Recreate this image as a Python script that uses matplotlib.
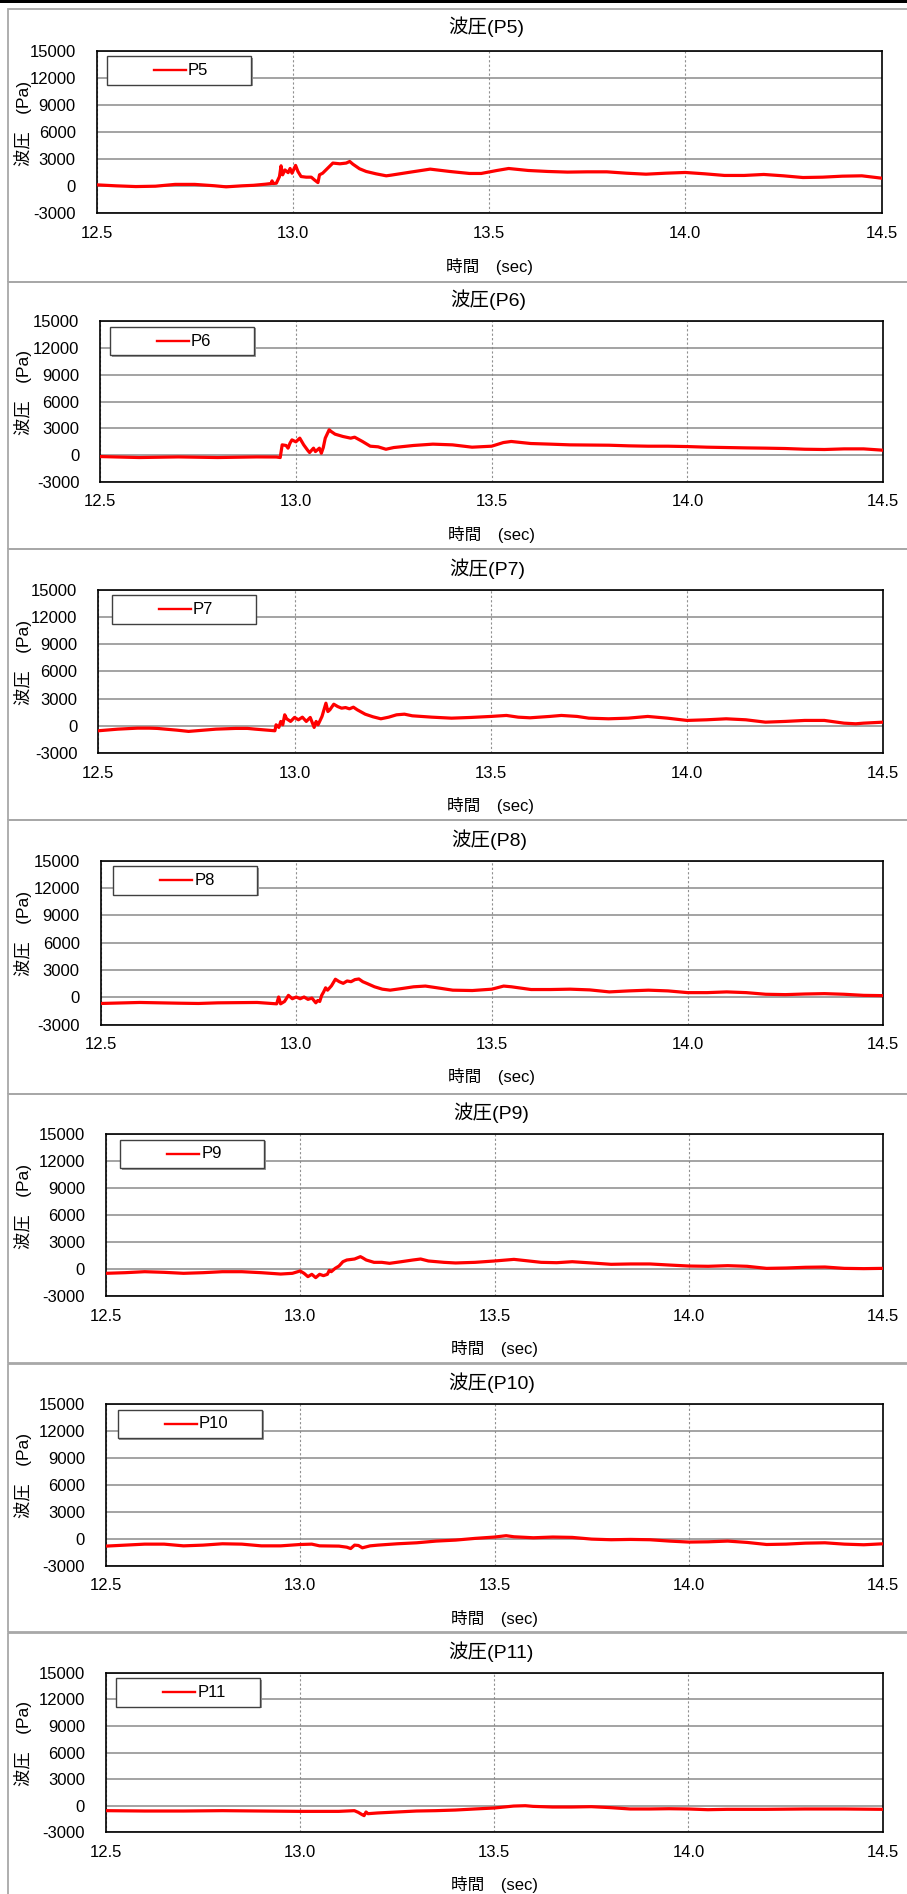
import matplotlib
matplotlib.use("Agg")
import matplotlib.pyplot as plt
from matplotlib.patches import Rectangle
from matplotlib.lines import Line2D

plt.rcParams['font.family'] = ['Liberation Sans', 'Noto Sans CJK JP', 'DejaVu Sans']

# 波圧の計測値 (時刻 sec, 圧力 Pa)
t5 = [12.50, 12.55, 12.60, 12.65, 12.70, 12.75, 12.80, 12.83, 12.87, 12.90,
      12.93, 12.945, 12.947, 12.95, 12.958, 12.966, 12.970, 12.974, 12.980, 12.988,
      12.993, 12.998, 13.007, 13.013, 13.021, 13.034, 13.047, 13.055, 13.064, 13.068,
      13.076, 13.089, 13.102, 13.120, 13.136, 13.145, 13.153, 13.170, 13.187, 13.212,
      13.238, 13.25, 13.30, 13.35, 13.40, 13.45, 13.48, 13.52, 13.55, 13.60,
      13.65, 13.70, 13.75, 13.80, 13.85, 13.90, 13.95, 14.00, 14.05, 14.10,
      14.15, 14.20, 14.25, 14.30, 14.35, 14.40, 14.45, 14.50]
p5 = [150, 40, -40, 0, 200, 200, 50, -70, 40, 100,
      220, 300, 590, 300, 330, 1070, 2260, 1260, 1800, 1500,
      1960, 1440, 2300, 1630, 1070, 1000, 1000, 700, 400, 1260,
      1440, 2000, 2560, 2480, 2560, 2740, 2440, 1930, 1630, 1370,
      1150, 1220, 1560, 1890, 1630, 1410, 1410, 1740, 1960, 1740,
      1630, 1560, 1590, 1590, 1440, 1330, 1440, 1520, 1370, 1190,
      1190, 1300, 1150, 960, 1000, 1110, 1150, 890]

t6 = [12.50, 12.60, 12.70, 12.80, 12.90, 12.95, 12.96, 12.965, 12.975, 12.98,
      12.985, 12.99, 13.00, 13.01, 13.02, 13.03, 13.035, 13.045, 13.05, 13.06,
      13.065, 13.07, 13.075, 13.085, 13.09, 13.10, 13.12, 13.14, 13.15, 13.17,
      13.19, 13.21, 13.23, 13.25, 13.30, 13.35, 13.40, 13.45, 13.50, 13.53,
      13.55, 13.60, 13.65, 13.70, 13.80, 13.85, 13.90, 13.95, 14.00, 14.05,
      14.10, 14.15, 14.20, 14.25, 14.30, 14.35, 14.40, 14.45, 14.50]
p6 = [-150, -260, -190, -260, -190, -200, -260, 1160, 1090, 790,
      1350, 1720, 1500, 1910, 1160, 560, 300, 790, 410, 790,
      220, 860, 1910, 2850, 2660, 2360, 2100, 1910, 2020, 1540,
      1010, 940, 670, 860, 1090, 1240, 1160, 900, 1010, 1420,
      1540, 1310, 1240, 1160, 1120, 1050, 1010, 1010, 970, 900,
      860, 820, 790, 750, 670, 640, 710, 710, 560]

t7 = [12.50, 12.55, 12.60, 12.63, 12.65, 12.70, 12.73, 12.75, 12.80, 12.85,
      12.88, 12.90, 12.95, 12.953, 12.96, 12.965, 12.97, 12.975, 12.98, 12.99,
      13.00, 13.01, 13.02, 13.03, 13.04, 13.05, 13.055, 13.06, 13.07, 13.08,
      13.085, 13.09, 13.10, 13.11, 13.12, 13.13, 13.14, 13.15, 13.16, 13.18,
      13.20, 13.22, 13.24, 13.26, 13.28, 13.30, 13.35, 13.40, 13.45, 13.50,
      13.54, 13.57, 13.60, 13.65, 13.68, 13.72, 13.75, 13.80, 13.85, 13.90,
      13.95, 14.00, 14.05, 14.10, 14.15, 14.20, 14.25, 14.30, 14.35, 14.40,
      14.43, 14.45, 14.50]
p7 = [-550, -370, -260, -260, -290, -480, -620, -550, -370, -290,
      -290, -370, -550, 110, -180, 480, 110, 1210, 770, 480,
      920, 660, 950, 480, 920, -180, 480, 110, 1030, 2490,
      1570, 1760, 2380, 2120, 1940, 2010, 1870, 2050, 1760, 1280,
      990, 770, 950, 1210, 1280, 1100, 950, 840, 920, 1030,
      1140, 950, 880, 1030, 1140, 1030, 840, 770, 840, 1030,
      840, 590, 660, 770, 660, 400, 480, 590, 590, 290,
      220, 290, 400]

t8 = [12.50, 12.60, 12.70, 12.75, 12.80, 12.90, 12.95, 12.955, 12.96, 12.97,
      12.98, 12.99, 13.00, 13.01, 13.02, 13.03, 13.04, 13.05, 13.055, 13.06,
      13.065, 13.07, 13.075, 13.08, 13.09, 13.10, 13.11, 13.12, 13.13, 13.14,
      13.15, 13.16, 13.17, 13.18, 13.20, 13.22, 13.24, 13.27, 13.30, 13.33,
      13.36, 13.40, 13.45, 13.50, 13.53, 13.55, 13.60, 13.65, 13.70, 13.75,
      13.80, 13.85, 13.90, 13.95, 14.00, 14.05, 14.10, 14.15, 14.20, 14.25,
      14.30, 14.35, 14.40, 14.45, 14.50]
p8 = [-670, -560, -640, -670, -600, -560, -710, 40, -710, -450,
      220, -150, 40, -150, 40, -220, -75, -600, -340, -450,
      220, 600, 1050, 790, 1270, 1990, 1720, 1540, 1800, 1720,
      1950, 2020, 1720, 1540, 1160, 900, 790, 970, 1160, 1240,
      1050, 790, 750, 900, 1240, 1160, 860, 860, 900, 820,
      600, 710, 790, 710, 520, 520, 600, 520, 340, 300,
      370, 410, 340, 220, 190]

t9 = [12.50, 12.55, 12.60, 12.65, 12.70, 12.75, 12.80, 12.85, 12.90, 12.95,
      12.98, 13.00, 13.01, 13.02, 13.03, 13.04, 13.05, 13.06, 13.07, 13.075,
      13.08, 13.09, 13.10, 13.11, 13.12, 13.14, 13.155, 13.16, 13.17, 13.19,
      13.21, 13.23, 13.26, 13.29, 13.31, 13.33, 13.37, 13.40, 13.45, 13.50,
      13.55, 13.58, 13.62, 13.66, 13.70, 13.75, 13.80, 13.85, 13.90, 13.95,
      14.00, 14.05, 14.10, 14.15, 14.20, 14.25, 14.30, 14.35, 14.40, 14.45,
      14.50]
p9 = [-480, -410, -300, -370, -480, -410, -300, -300, -410, -560,
      -480, -220, -480, -850, -590, -960, -590, -740, -590, -150,
      -300, 70, 330, 810, 1000, 1110, 1370, 1260, 1000, 740,
      740, 630, 810, 1000, 1110, 890, 740, 670, 740, 890,
      1070, 930, 740, 700, 810, 670, 520, 560, 560, 440,
      330, 300, 370, 300, 70, 110, 190, 220, 70, 40,
      70]

t10 = [12.50, 12.55, 12.60, 12.65, 12.70, 12.75, 12.80, 12.85, 12.90, 12.95,
       13.00, 13.03, 13.05, 13.10, 13.12, 13.13, 13.14, 13.15, 13.16, 13.18,
       13.20, 13.25, 13.30, 13.35, 13.40, 13.45, 13.50, 13.53, 13.55, 13.60,
       13.65, 13.70, 13.75, 13.80, 13.85, 13.90, 13.95, 14.00, 14.05, 14.10,
       14.15, 14.20, 14.25, 14.30, 14.35, 14.40, 14.45, 14.50]
p10 = [-820, -710, -600, -600, -790, -710, -560, -600, -790, -790,
       -640, -600, -790, -820, -940, -1090, -710, -750, -1010, -790,
       -710, -560, -450, -260, -150, 40, 190, 340, 220, 110,
       190, 150, -40, -110, -75, -110, -260, -370, -340, -260,
       -410, -640, -600, -490, -450, -600, -670, -560]

t11 = [12.50, 12.60, 12.70, 12.80, 12.90, 13.00, 13.10, 13.14, 13.15, 13.16,
       13.165, 13.17, 13.175, 13.20, 13.25, 13.30, 13.35, 13.40, 13.45, 13.50,
       13.55, 13.58, 13.60, 13.65, 13.70, 13.75, 13.80, 13.85, 13.90, 13.95,
       14.00, 14.05, 14.10, 14.20, 14.30, 14.40, 14.50]
p11 = [-560, -600, -600, -560, -600, -640, -640, -560, -750, -1010,
       -1120, -710, -900, -820, -710, -600, -560, -490, -370, -260,
       -40, 0, -75, -150, -150, -110, -220, -370, -370, -340,
       -370, -450, -410, -410, -370, -370, -410]

names = ["P5", "P6", "P7", "P8", "P9", "P10", "P11"]
times = [t5, t6, t7, t8, t9, t10, t11]
values = [p5, p6, p7, p8, p9, p10, p11]

x_ticks = [12.5, 13.0, 13.5, 14.0, 14.5]
y_ticks = [-3000, 0, 3000, 6000, 9000, 12000, 15000]

# ---- layout in pixels (figure is 907 x 1894) ----
W, H = 907, 1894
# plot area: left, top, right, bottom
boxes = [(96.6, 50.7, 881.5, 213.3),
         (100.1, 321.3, 883.2, 482.0),
         (98.3, 589.7, 883.2, 753.0),
         (100.6, 860.7, 883.2, 1024.7),
         (105.8, 1134.0, 883.2, 1296.0),
         (105.8, 1404.0, 883.2, 1565.7),
         (105.8, 1672.7, 882.6, 1832.3)]
title_y = [26.7, 300, 568.3, 840, 1112.7, 1382.7, 1651.7]
xlabel_y = [266.7, 534.3, 805, 1076.7, 1348.3, 1618.3, 1884]
frames = [(9.3, 281.7), (281.7, 549), (549, 820), (819.7, 1093.5),
          (1093.5, 1363), (1364, 1632.3), (1632.7, 1905)]
legend_dx = [10.4, 10, 13.3, 12.8, 14.5, 12.2, 10.5]


def fx(px):
    return px / W


def fy(py):
    return 1 - py / H


fig = plt.figure(figsize=(W / 100, H / 100), dpi=100)

# black rule along the top edge
fig.patches.append(Rectangle((0, fy(3.5)), 1, 3.5 / H, transform=fig.transFigure,
                             facecolor='black', edgecolor='none'))

for i in range(7):
    l, t, r, b = boxes[i]
    ft, fb = frames[i]

    # chart area border
    fig.patches.append(Rectangle((fx(8), fy(fb)), fx(W + 10), (fb - ft) / H,
                                 transform=fig.transFigure, facecolor='none',
                                 edgecolor='#a8a8a8', linewidth=1.3))

    ax = fig.add_axes([fx(l), fy(b), (r - l) / W, (b - t) / H])
    ax.plot(times[i], values[i], color='#ff0000', linewidth=2.3, zorder=3)

    ax.set_xlim(12.5, 14.5)
    ax.set_ylim(-3000, 15000)
    ax.set_xticks(x_ticks)
    ax.set_xticklabels(["%.1f" % v for v in x_ticks])
    ax.set_yticks(y_ticks)
    ax.set_yticklabels([str(v) for v in y_ticks])
    ax.tick_params(axis='both', length=0, labelsize=12)
    ax.tick_params(axis='x', pad=9)
    ax.tick_params(axis='y', pad=15)

    ax.yaxis.grid(True, color='#8a8a8a', linewidth=1.1)
    ax.xaxis.grid(True, color='#909090', linewidth=0.8, linestyle=(0, (2, 2)))
    ax.set_axisbelow(True)
    for s in ax.spines.values():
        s.set_color('black')
        s.set_linewidth(1.2)

    cx = (l + r) / 2
    fig.text(fx(cx - 3), fy(title_y[i]), "波圧(%s)" % names[i], fontsize=14,
             ha='center', va='center')
    fig.text(fx(cx), fy(xlabel_y[i]), "時間　(sec)", fontsize=12,
             ha='center', va='center')
    fig.text(fx(23), fy((t + b) / 2 - 9), "波圧　(Pa)", fontsize=12.5,
             rotation=90, ha='center', va='center')

    # legend box
    lx0 = l + legend_dx[i]
    ly0 = t + 5.5
    lw_, lh_ = 144, 28.5
    fig.patches.append(Rectangle((fx(lx0 + 1.5), fy(ly0 + lh_ + 1.5)), lw_ / W, lh_ / H,
                                 transform=fig.transFigure, facecolor='#9a9a9a',
                                 edgecolor='none', zorder=5))
    fig.patches.append(Rectangle((fx(lx0), fy(ly0 + lh_)), lw_ / W, lh_ / H,
                                 transform=fig.transFigure, facecolor='white',
                                 edgecolor='#404040', linewidth=1.0, zorder=6))
    fig.lines.append(Line2D([fx(lx0 + 47), fx(lx0 + 79)],
                            [fy(ly0 + lh_ / 2), fy(ly0 + lh_ / 2)],
                            transform=fig.transFigure, color='#ff0000',
                            linewidth=1.7, zorder=7))
    fig.text(fx(lx0 + 81), fy(ly0 + lh_ / 2), names[i], fontsize=12,
             ha='left', va='center', zorder=8)

fig.savefig("out.png", dpi=100, facecolor='white')
